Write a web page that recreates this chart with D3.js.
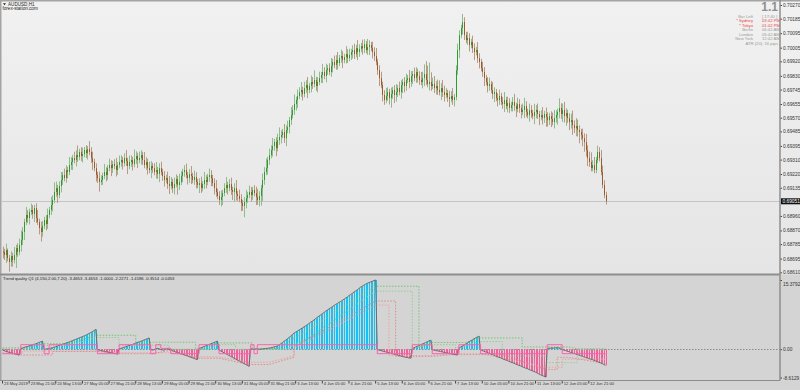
<!DOCTYPE html>
<html>
<head>
<meta charset="utf-8">
<script src="https://cdnjs.cloudflare.com/ajax/libs/d3/7.8.5/d3.min.js"></script>
<style>
  body { margin: 0; background: #d4d4d4; }
  svg { display: block; }
  text { font-family: "Liberation Sans", Arial, sans-serif; }
</style>
</head>
<body>
<script>
// AUDUSD H1 closes, in pipettes (0.69051 -> 69051); open = previous close
const closes = [
  68736,68717,68748,68698,68674,68711, 68686,68717,68760,68736,68779,68810,
  68861,68923,68966,68947,68985,68997, 68972,69009,68947,68923,68885,68861,
  68898,68935,68910,68966,68997,69028, 69059,69109,69133,69090,69146,69183,
  69214,69195,69245,69233,69276,69295, 69319,69307,69338,69326,69357,69332,
  69344,69369,69350,69375,69357,69319, 69295,69257,69214,69195,69171,69183,
  69208,69233,69214,69257,69276,69257, 69282,69270,69245,69276,69295,69307,
  69288,69319,69301,69270,69295,69307, 69282,69313,69332,69307,69319,69338,
  69307,69276,69295,69257,69245,69270, 69257,69233,69245,69220,69257,69233,
  69208,69183,69195,69158,69146,69171, 69133,69158,69189,69152,69171,69208,
  69233,69245,69214,69195,69220,69208, 69183,69202,69171,69152,69164,69133,
  69158,69183,69171,69202,69214,69195, 69164,69133,69109,69084,69059,69078,
  69102,69133,69152,69133,69158,69121, 69109,69133,69096,69084,69065,69040,
  69022,69047,69071,69090,69109,69090, 69121,69102,69078,69059,69084,69133,
  69183,69233,69257,69307,69338,69369, 69394,69419,69381,69431,69450,69462,
  69481,69443,69493,69512,69555,69586, 69618,69655,69680,69705,69729,69742,
  69717,69754,69773,69742,69767,69792, 69779,69804,69767,69792,69816,69835,
  69854,69829,69866,69878,69854,69891, 69916,69897,69928,69910,69940,69953,
  69928,69947,69965,69940,69959,69978, 69990,69965,70002,69978,69996,70015,
  70002,70027,69990,70009,70021,70002, 69978,69953,69916,69866,69816,69773,
  69711,69680,69705,69729,69692,69717, 69742,69711,69729,69754,69729,69773,
  69792,69767,69804,69816,69792,69829, 69841,69816,69854,69829,69804,69792,
  69816,69841,69804,69779,69792,69767, 69779,69754,69767,69742,69729,69754,
  69729,69711,69723,69698,69686,69705, 69680,69698,69866,69990,70083,70127,
  70164,70083,70052,70065,70021,70040, 70002,69978,69990,69940,69916,69878,
  69854,69816,69792,69767,69779,69742, 69717,69729,69692,69680,69705,69668,
  69655,69680,69643,69661,69630,69649, 69668,69643,69624,69655,69630,69606,
  69618,69643,69606,69586,69618,69599, 69580,69606,69618,69593,69574,69586,
  69568,69593,69574,69555,69580,69562, 69543,69568,69586,69606,69630,69593,
  69618,69580,69599,69568,69543,69555, 69524,69505,69518,69493,69481,69462,
  69443,69419,69369,69319,69295,69257, 69276,69245,69307,69357,69319,69233,
  69152,69090,69051
];
const firstOpen = 68740;
// wick beyond the body, in pips
const upWick = [
  3,2,4,1,2,3,2,5,2,3, 4,6,3,2,5,3,2,4,3,2, 3,5,2,4,3,2,3,4,2,5, 3,6,4,2,3,5,2,4,3,2,
  5,3,2,4,3,6,2,3,4,2, 3,2,5,3,4,2,3,2,4,3, 2,5,3,2,4,3,2,3,5,2, 4,3,2,3,5,2,4,3,2,6,
  3,2,4,3,2,5,3,2,4,3, 2,3,5,2,3,4,2,3,2,4, 5,3,2,4,3,2,5,3,2,3, 4,2,3,5,2,4,3,2,3,4,
  2,5,3,2,4,3,2,3,5,2, 3,4,2,3,5,2,3,4,2,3, 5,2,4,3,2,3,5,2,4,3, 2,3,4,5,3,2,4,3,6,2,
  4,3,5,2,3,4,6,3,2,5, 3,4,2,5,3,6,2,4,3,5, 2,4,3,5,2,4,3,6,2,3, 4,2,5,3,4,2,3,5,2,4,
  3,5,2,4,3,2,5,3,4,2, 3,4,2,5,3,2,4,3,2,5, 3,2,4,3,5,2,3,4,2,3, 5,3,2,4,2,3,5,2,4,3,
  2,3,4,2,5,3,2,4,3,2, 3,5,4,6,8,9,12,6,4,5, 3,4,6,3,5,4,3,2,4,3, 5,2,3,4,3,2,5,3,2,4,
  3,2,4,3,2,5,3,2,4,3, 2,3,4,2,5,3,2,3,4,2, 3,5,2,4,3,2,3,5,2,4, 3,2,4,5,3,2,4,3,2,5,
  3,4,2,3,5,2,4,3,2,3, 4,5,3,2,6,3,4,5,3,2, 3,4,6,3,5,4,3,2,4,3, 5,3,4,6,3,5,2,4,3,5,
  4,3,2,5,3,4,7,5,3,4, 3,2,4
];
const downWick = [
  4,3,5,2,6,3,4,2,8,3, 2,4,3,5,2,3,4,2,3,5, 3,2,4,6,3,2,4,3,2,3, 4,2,3,5,2,4,3,2,3,4,
  2,3,5,2,4,3,2,3,4,2, 3,4,2,3,5,2,4,3,6,2, 3,2,4,3,2,5,3,2,4,3, 2,3,4,2,3,5,2,3,4,2,
  3,5,2,4,3,2,3,4,2,5, 3,2,4,3,5,2,3,4,2,3, 5,2,3,4,2,6,3,2,4,3, 2,4,3,5,2,3,4,2,5,3,
  2,3,4,2,3,5,2,4,3,2, 3,4,5,2,3,4,2,3,5,6, 4,3,2,5,3,7,4,3,2,4, 3,2,5,3,4,6,8,3,2,4,
  3,2,4,3,5,2,3,4,2,3, 5,2,4,3,2,3,4,5,2,3, 4,2,3,5,2,4,3,2,3,4, 2,3,5,2,4,3,2,3,4,2,
  3,4,2,3,5,2,4,3,2,3, 4,3,2,5,3,2,4,3,2,3, 5,2,4,3,2,3,5,2,4,3, 2,3,4,6,3,5,4,3,2,4,
  5,4,3,2,4,3,5,2,3,4, 3,2,4,5,3,2,4,3,2,3, 4,3,2,5,3,4,2,3,5,2, 3,4,2,3,5,2,4,3,2,3,
  4,2,3,5,2,3,4,2,3,5, 2,4,3,2,3,5,2,4,3,2, 3,5,2,4,3,2,4,3,5,2, 3,4,2,5,3,2,4,3,2,5,
  4,3,5,2,4,3,6,4,3,5, 2,4,3,6,4,3,5,4,6,3, 5,4,6,3,5,4,7,3,5,6, 4,5,3
];

// Trend quality Q1 histogram, one value per bar
const tq = [
  -0.2,-0.35,-0.5,-0.6,-0.7,-0.8,-0.9,-1.0,-1.1,-1.2,-1.3,
  0.1,0.25,0.4,0.5,0.6,0.75,0.85,1.0,1.1,1.2,1.35,1.5,1.65,1.8,
  -0.1,0.05,0.1,
  0.15,0.25,0.35,0.45,0.55,0.7,0.85,1.0,1.1,1.2,1.35,1.5,1.6,1.75,1.9,2.05,2.2,2.35,2.5,2.65,2.8,2.95,3.1,3.3,3.5,3.7,3.9,4.15,4.4,
  -0.1,-0.2,-0.3,-0.4,-0.45,-0.55,-0.6,-0.7,-0.8,-0.85,-0.95,-1.0,-1.1,
  0.1,0.2,0.3,0.45,0.55,0.7,0.8,0.95,1.05,1.2,1.35,1.5,1.6,1.75,1.9,2.05,2.2,2.35,2.5,
  -0.1,-0.2,-0.1,0.1,0.2,0.1,-0.1,-0.15,-0.2,0.05,0.1,-0.05,
  -0.15,-0.3,-0.45,-0.6,-0.7,-0.85,-1.0,-1.1,-1.25,-1.4,-1.5,-1.65,-1.8,-1.9,-2.05,-2.2,-2.3,
  0.15,0.3,0.45,0.6,0.75,0.9,1.05,1.2,1.35,1.5,1.65,1.8,
  -0.2,-0.4,-0.6,-0.8,-1.0,-1.2,-1.4,-1.6,-1.8,-2.0,-2.2,-2.4,-2.6,-2.8,-3.0,-3.2,-3.4,-3.6,-3.8,
  0.1,0.05,-0.1,0.05,0.1,-0.05,0.05,
  0.05,0.1,0.15,0.2,0.25,0.3,0.4,0.5,0.6,0.7,0.95,1.2,1.45,1.75,2.0,2.3,2.6,2.9,3.25,3.55,
  3.8,4.0,4.25,4.5,4.7,4.95,5.2,5.45,5.7,6.0,6.25,6.5,6.8,7.1,7.35,7.6,7.9,8.15,8.45,8.7,
  8.95,9.2,9.45,9.7,9.95,10.15,10.4,10.6,10.85,11.1,11.35,11.6,11.9,12.15,12.4,12.7,12.95,13.2,13.5,13.8,
  14.0,14.25,14.45,14.65,14.8,14.95,15.1,15.25,15.3792,
  -0.1,-0.2,-0.3,-0.4,-0.5,-0.6,-0.7,-0.8,-0.9,-1.0,-1.1,-1.2,-1.3,-1.4,-1.5,-1.6,-1.7,-1.8,-1.85,-1.95,-2.0,
  0.15,0.3,0.5,0.65,0.8,1.0,1.15,1.3,1.5,1.65,1.85,2.0,
  -0.1,-0.2,-0.3,-0.35,-0.45,-0.5,-0.6,-0.7,-0.75,-0.85,-0.9,-1.0,-1.1,-1.15,-1.25,-1.3,
  0.2,0.45,0.7,0.9,1.15,1.4,1.6,1.85,2.05,2.3,2.5,2.7,2.9,
  -0.15,-0.3,-0.45,-0.6,-0.7,-0.9,-1.05,-1.2,-1.3,-1.5,-1.65,-1.8,-1.9,-2.1,-2.25,-2.4,-2.5,-2.7,-2.85,-3.0,
  -3.1,-3.3,-3.45,-3.6,-3.7,-3.9,-4.05,-4.2,-4.3,-4.5,-4.65,-4.8,-4.95,-5.1,-5.3,-5.5,-5.7,-5.85,-6.0,-6.2,
  0.1,0.2,0.25,0.3,0.25,0.3,0.35,0.3,0.2,
  -0.1,-0.2,-0.3,-0.45,-0.55,-0.7,-0.8,-0.95,-1.05,-1.2,-1.3,-1.45,-1.55,-1.7,-1.8,-1.95,-2.05,-2.2,-2.3,-2.45,
  -2.6,-2.75,-2.9,-3.05,-3.2,-3.4,-3.6
];
// step lines as [bar, value] break points
const trendLine = [[0,-1],[11,1],[25,-1],[28,1],[57,-1],[70,1],[89,-1],[92,1],[95,0.2],[101,-1],[118,1],[130,-1],
  [149,1],[151,-1],[153,1],[156,1],[225,-1],[246,1],[258,-1],[274,1],[287,-1],[327,1],[336,-1],[362,-1]];
const upLevel1 = [[0,0.3],[14,0.3],[24,1.2],[40,1.2],[56,3.1],[80,3.1],[80,1.55],[116,1.55],[116,0.2],[120,0.2],[129,1.4],
  [150,1.4],[150,0.15],[165,0.15],[180,3.5],[224,14.0],[250,14.0],[250,0.4],[257,1.5],[278,1.5],[286,2.5],[312,2.5],
  [312,0.5],[340,0.5],[345,0.1],[362,0.1]];
const upLevel2 = [[0,0.1],[20,0.1],[24,0.8],[40,0.8],[56,2.6],[70,2.6],[70,0.9],[100,0.9],[100,0.0],[124,0.0],[129,1.0],
  [140,1.0],[140,0.0],[170,0.0],[185,2.8],[224,12.9],[246,12.9],[246,0.3],[257,1.0],[272,1.0],[272,0.2],[286,1.7],
  [300,1.7],[300,-1.5],[327,-1.5],[327,-3.0],[345,-3.0],[345,0.0],[362,0.0]];
const dnLevel1 = [[0,-0.8],[10,-1.3],[30,-1.3],[30,-0.5],[57,-0.5],[69,-1.0],[90,-1.0],[100,-0.3],[117,-2.0],[130,-2.0],
  [148,-3.4],[160,-3.4],[175,-1.8],[175,0.5],[224,10.7],[236,10.7],[236,-1.6],[258,-1.6],[270,-1.2],[300,-1.2],
  [326,-4.5],[333,-4.5],[333,-1.8],[340,-1.8],[362,-3.2]];
const dnLevel2 = [[0,-1.0],[12,-1.0],[12,-0.4],[57,-0.4],[69,-0.8],[101,-0.8],[117,-1.7],[130,-1.7],[148,-2.9],[160,-2.9],
  [175,-1.5],[175,0.2],[224,9.8],[232,9.8],[232,-1.4],[258,-1.4],[272,-1.0],[287,-1.0],[326,-4.0],[336,-4.0],
  [336,-2.2],[362,-2.2]];

const priceTicks = [0.70270,0.70185,0.70095,0.70005,0.69920,0.69830,0.69745,0.69655,0.69570,0.69485,
  0.69395,0.69310,0.69220,0.69135,0.68960,0.68870,0.68785,0.68695,0.68610];
const timeLabels = ["23 May 2019","23 May 21:00","24 May 13:00","27 May 05:00","27 May 21:00","28 May 13:00",
  "29 May 05:00","29 May 21:00","30 May 13:00","31 May 05:00","31 May 21:00","3 Jun 13:00","4 Jun 05:00",
  "4 Jun 21:00","5 Jun 13:00","6 Jun 05:00","6 Jun 21:00","7 Jun 13:00","10 Jun 05:00","10 Jun 21:00",
  "11 Jun 13:00","12 Jun 05:00","12 Jun 21:00"];
const infoRows = [
  ["Bar Left", "[ 17:40 ]", "#9a9a9a"],
  ["* Sydney", "03:42 PM", "#f03c3c"],
  ["* Tokyo", "01:42 PM", "#f03c3c"],
  ["Berlin", "06:42 AM", "#9a9a9a"],
  ["London", "05:42 AM", "#9a9a9a"],
  ["New York", "12:42 AM", "#9a9a9a"]
];
const indTitle = "Trend quality Q1 (4,150,2.00,7.20) -3.4653 -3.4653 -1.0000 -2.2271 -1.4186 -0.3514 -0.0453";

const W = 800, H = 390;
const axisX = 780, sepY = 274.5, botY = 380.5;

const svg = d3.select("body").append("svg").attr("width", W).attr("height", H);
const grad = svg.append("defs").append("linearGradient").attr("id", "bg")
  .attr("x1", 0).attr("y1", 0).attr("x2", 0).attr("y2", 1);
grad.append("stop").attr("offset", "0%").attr("stop-color", "#f1f1f1");
grad.append("stop").attr("offset", "100%").attr("stop-color", "#e5e5e5");

svg.append("rect").attr("width", W).attr("height", H).attr("fill", "#d4d4d4");
svg.append("rect").attr("width", W).attr("height", sepY).attr("fill", "url(#bg)");

const x = d3.scaleLinear().domain([0, closes.length - 1]).range([2.5, 605.5]);
const y = d3.scaleLinear().domain([0.68610, 0.70270]).range([272.3, 5]);
const yi = d3.scaleLinear().domain([-6.4, 15.3792]).range([378, 280]);
const px = i => Math.round(x(i)) + 0.5;

// ---- candles
const bars = closes.map((c, i) => {
  const o = i ? closes[i - 1] : firstOpen;
  return {
    i,
    o: o / 1e5,
    c: c / 1e5,
    h: (Math.max(o, c) + (upWick[i] ?? 2) * 10) / 1e5,
    l: (Math.min(o, c) - (downWick[i] ?? 2) * 10) / 1e5
  };
});

svg.append("line").attr("x1", 2).attr("x2", axisX).attr("y1", Math.round(y(0.69051)) + 0.5)
  .attr("y2", Math.round(y(0.69051)) + 0.5).attr("stroke", "#c4c4c4");

const candles = svg.append("g");
candles.selectAll("line").data(bars).join("line")
  .attr("x1", d => px(d.i)).attr("x2", d => px(d.i))
  .attr("y1", d => y(d.h)).attr("y2", d => y(d.l))
  .attr("stroke", d => d.c >= d.o ? "#8fbc8f" : "#b89a82").attr("stroke-width", 1);
candles.selectAll("rect").data(bars).join("rect")
  .attr("x", d => Math.round(x(d.i))).attr("width", 1)
  .attr("y", d => y(Math.max(d.o, d.c)))
  .attr("height", d => Math.max(1, Math.abs(y(d.o) - y(d.c))))
  .attr("fill", d => d.c >= d.o ? "#2f9a2f" : "#9a5a2a");

// ---- price axis
const pAxis = svg.append("g").attr("transform", `translate(${axisX},0)`)
  .call(d3.axisRight(y).tickValues(priceTicks).tickSize(2).tickPadding(1).tickFormat(d3.format(".5f")));
pAxis.select(".domain").remove();
pAxis.selectAll("text").attr("font-size", 4.8).attr("fill", "#333");
pAxis.selectAll("line").attr("stroke", "#444");
svg.append("rect").attr("x", axisX + 1).attr("y", y(0.69051) - 3).attr("width", 19).attr("height", 6).attr("fill", "#111");
svg.append("text").attr("x", axisX + 2.5).attr("y", y(0.69051) + 1.7).attr("font-size", 4.8)
  .attr("fill", "#fff").text("0.69051");

// ---- top-left labels
svg.append("path").attr("d", "M3,3.2 L6,3.2 L4.5,5.2 Z").attr("fill", "#222");
svg.append("text").attr("x", 8).attr("y", 5.6).attr("font-size", 4.6).attr("fill", "#222").text("AUDUSD,H1");
svg.append("text").attr("x", 2.5).attr("y", 10).attr("font-size", 4.6).attr("fill", "#222").text("forex-station.com");

// ---- info block
svg.append("text").attr("x", 778).attr("y", 11.3).attr("text-anchor", "end")
  .attr("font-size", 12).attr("font-weight", "bold").attr("fill", "#8e8e8e").text("1.1");
infoRows.forEach((r, k) => {
  const ty = 18 + k * 4.45;
  svg.append("text").attr("x", 753).attr("y", ty).attr("text-anchor", "end")
    .attr("font-size", 4.2).attr("fill", r[2]).text(r[0]);
  svg.append("text").attr("x", 762).attr("y", ty)
    .attr("font-size", 4.2).attr("fill", r[2]).text(r[1]);
});
svg.append("text").attr("x", 778).attr("y", 18 + 6 * 4.45).attr("text-anchor", "end")
  .attr("font-size", 4.2).attr("fill", "#9a9a9a").text("ATR (20): 16 pips");

// ---- indicator panel
const ind = svg.append("g");
ind.append("line").attr("x1", 2).attr("x2", axisX).attr("y1", Math.round(yi(0)) + 0.5).attr("y2", Math.round(yi(0)) + 0.5)
  .attr("stroke", "#8a8a8a").attr("stroke-dasharray", "1.5,1.5");

ind.selectAll("line.h").data(tq).join("line").attr("class", "h")
  .attr("x1", (d, i) => px(i)).attr("x2", (d, i) => px(i))
  .attr("y1", yi(0)).attr("y2", d => yi(d))
  .attr("stroke", d => d >= 0 ? "#14c3f5" : "#f0609c").attr("stroke-width", 1);

const stepLine = d3.line().x(d => x(d[0])).y(d => yi(d[1]));
[[upLevel1, "#72c472"], [upLevel2, "#8fd08f"], [dnLevel1, "#e38a8a"], [dnLevel2, "#eba0a0"]].forEach(([pts, col]) => {
  ind.append("path").attr("d", stepLine(pts)).attr("fill", "none").attr("stroke", col)
    .attr("stroke-width", 1).attr("stroke-dasharray", "1.5,1.5");
});

ind.append("path").attr("d", d3.line().x((d, i) => x(i)).y(d => yi(d))(tq))
  .attr("fill", "none").attr("stroke", "#6c6c6c").attr("stroke-width", 1);

ind.append("path").attr("d", d3.line().curve(d3.curveStepAfter).x(d => x(d[0])).y(d => yi(d[1]))(trendLine))
  .attr("fill", "none").attr("stroke", "#ff5fae").attr("stroke-width", 1);

ind.append("text").attr("x", 3).attr("y", 279.5).attr("font-size", 4.2).attr("fill", "#222").text(indTitle);

const iAxis = svg.append("g").attr("transform", `translate(${axisX},0)`)
  .call(d3.axisRight(yi).tickValues([15.3792, 0]).tickSize(2).tickPadding(1)
    .tickFormat(d => d === 0 ? "0.00" : d3.format(".4f")(d)));
iAxis.select(".domain").remove();
iAxis.selectAll("text").attr("font-size", 4.8).attr("fill", "#333");
iAxis.selectAll("line").attr("stroke", "#444");
iAxis.selectAll(".tick").filter(d => d !== 0).select("text").attr("dy", "1.2em");
svg.append("text").attr("x", axisX + 3).attr("y", yi.range()[0] + 1.7).attr("font-size", 4.8).attr("fill", "#333").text("-8.6129");
svg.append("line").attr("x1", axisX).attr("x2", axisX + 2).attr("y1", yi.range()[0]).attr("y2", yi.range()[0]).attr("stroke", "#444");

// ---- time axis
const tAxis = svg.append("g").attr("transform", `translate(0,${botY})`)
  .call(d3.axisBottom(x).tickValues(timeLabels.map((t, k) => k * 16)).tickSize(3).tickPadding(0)
    .tickFormat((d, k) => timeLabels[k]));
tAxis.select(".domain").remove();
tAxis.selectAll("line").attr("stroke", "#444").attr("transform", "translate(-0.5,0)");
tAxis.selectAll("text").attr("font-size", 4.1).attr("fill", "#333").attr("text-anchor", "start")
  .attr("dx", 1).attr("dy", "0.45em");

// ---- frame
const frame = svg.append("g").attr("stroke", "#8e8e8e").attr("fill", "none");
frame.append("line").attr("x1", 0).attr("x2", W).attr("y1", 0.75).attr("y2", 0.75).attr("stroke-width", 1.5).attr("stroke", "#a4a4a4");
frame.append("line").attr("x1", 0.75).attr("x2", 0.75).attr("y1", 0).attr("y2", botY).attr("stroke-width", 1.5).attr("stroke", "#a4a4a4");
frame.append("line").attr("x1", 0).attr("x2", axisX).attr("y1", sepY).attr("y2", sepY).attr("stroke-width", 2);
frame.append("line").attr("x1", 0).attr("x2", axisX).attr("y1", botY).attr("y2", botY).attr("stroke-width", 1);
frame.append("line").attr("x1", axisX).attr("x2", axisX).attr("y1", 0).attr("y2", botY).attr("stroke-width", 1.5);
</script>
</body>
</html>
